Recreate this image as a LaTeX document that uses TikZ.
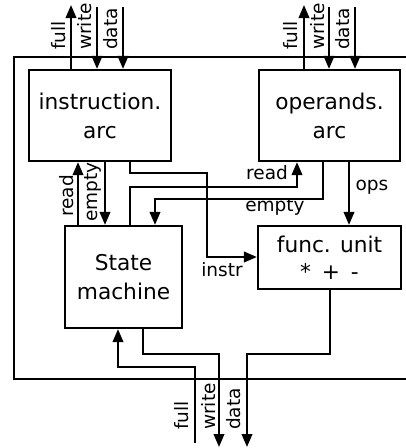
\documentclass[tikz,border=0pt]{standalone}
\usepackage{fontspec}
\setmainfont{DejaVu Sans}
\usetikzlibrary{arrows.meta}
\tikzset{
  ln/.style={line width=2.2pt},
  arr/.style={line width=2.2pt,-{Triangle[length=13pt,width=10.5pt]}},
  blk/.style={draw,line width=2.2pt,rectangle,inner sep=0pt,align=center,
    font=\fontsize{21.7}{29}\selectfont},
  lbl/.style={inner sep=0pt,font=\fontsize{18.5}{22}\selectfont},
  vlbl/.style={lbl,rotate=90,anchor=base west},
}
\begin{document}
\begin{tikzpicture}[x=1pt,y=-1pt]
\useasboundingbox (0,0) rectangle (406,448);
% frame
\draw[ln] (406,57) -- (14,57) -- (14,379) -- (406,379);
% blocks
\node[blk,minimum width=142pt,minimum height=91pt] (instr) at (100,115.5) {instruction.\\arc};
\node[blk,minimum width=141pt,minimum height=91pt] (oper) at (329.5,115.5) {operands.\\arc};
\node[blk,minimum width=117pt,minimum height=102pt] (state) at (123.5,277) {State\\machine};
\node[blk,minimum width=143pt,minimum height=63pt,font=\fontsize{21.7}{27}\selectfont] (func) at (329.5,257.5) {func. unit\\*\hspace{0.5em}+\hspace{0.5em}-};
% top of instruction arc
\coordinate (if) at (71,5);
\coordinate (iw) at (97,7);
\coordinate (id) at (123,7);
\draw[arr] (instr.north -| if) -- (if);
\draw[arr] (iw) -- (instr.north -| iw);
\draw[arr] (id) -- (instr.north -| id);
\node[vlbl] (lif) at (65,50) {full};
\node[vlbl] (liw) at (92,50) {write};
\node[vlbl] (lid) at (117,50) {data};
% top of operands arc
\coordinate (of) at (304,5);
\coordinate (ow) at (329,7);
\coordinate (od) at (355,7);
\draw[arr] (oper.north -| of) -- (of);
\draw[arr] (ow) -- (oper.north -| ow);
\draw[arr] (od) -- (oper.north -| od);
\node[vlbl] (lof) at (297,50) {full};
\node[vlbl] (low) at (324,50) {write};
\node[vlbl] (lod) at (349,50) {data};
% instruction arc <-> state machine
\coordinate (xr) at (78,0);
\coordinate (xe) at (105,0);
\draw[arr] (state.north -| xr) -- (instr.south -| xr);
\draw[arr] (instr.south -| xe) -- (state.north -| xe);
\node[vlbl] (lr) at (73,217) {read};
\node[vlbl] (le) at (97,222) {empty};
% instr to func unit
\coordinate (xi) at (130,0);
\draw[arr] (instr.south -| xi) -- (130,173) -- (207,173) -- (207,257) -- (func.west |- 0,257);
\node[lbl] (li) at (222,270) {instr};
% read to operands
\coordinate (xor) at (297,0);
\draw[arr] (state.north -| xi) -- (130,187) -- (297,187) -- (oper.south -| xor);
\node[lbl] (lor) at (267,173) {read};
% empty from operands
\coordinate (xoe) at (323,0);
\coordinate (xse) at (155,0);
\draw[arr] (oper.south -| xoe) -- (323,199) -- (155,199) -- (state.north -| xse);
\node[lbl] (loe) at (275,207) {empty};
% ops
\coordinate (xops) at (349,0);
\draw[arr] (oper.south -| xops) -- (func.north -| xops);
\node[lbl] (lops) at (372,187) {ops};
% bottom
\coordinate (bd) at (247,447);
\coordinate (bw) at (219,447);
\coordinate (bf) at (195,443);
\coordinate (xfd) at (330,0);
\coordinate (xsw) at (143,0);
\coordinate (xsf) at (118,0);
\draw[arr] (func.south -| xfd) -- (330,354) -- (247,354) -- (bd);
\draw[arr] (state.south -| xsw) -- (143,354) -- (219,354) -- (bw);
\draw[arr] (bf) -- (195,367) -- (118,367) -- (state.south -| xsf);
\node[vlbl] (lbf) at (188,430) {full};
\node[vlbl] (lbw) at (215,430) {write};
\node[vlbl] (lbd) at (240,430) {data};
\end{tikzpicture}
\end{document}
